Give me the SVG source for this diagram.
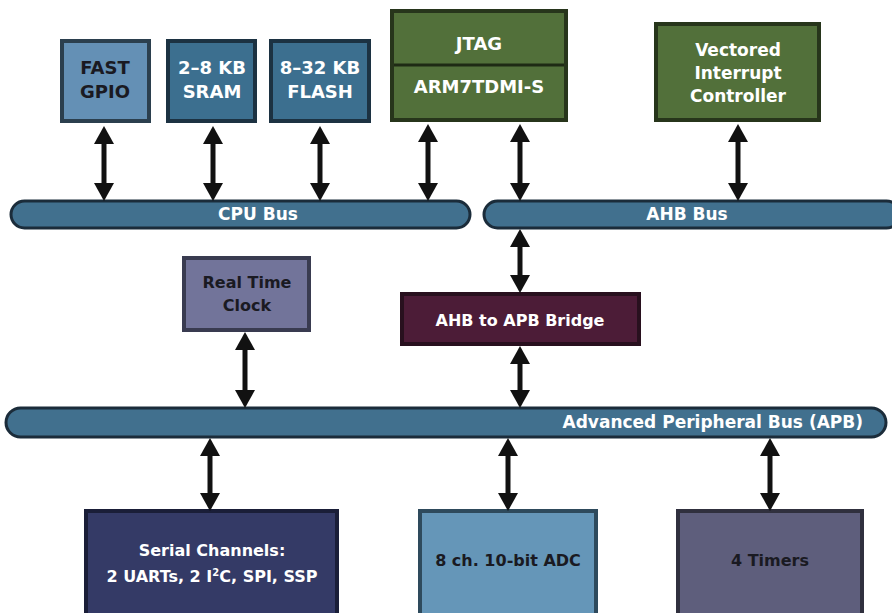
<svg xmlns="http://www.w3.org/2000/svg" width="892" height="613" viewBox="0 0 892 613">
<defs>
<marker id="ah" viewBox="0 0 18 20" refX="9" refY="10" markerWidth="18" markerHeight="20" markerUnits="userSpaceOnUse" orient="auto-start-reverse">
<path d="M0,0 L18,10 L0,20 z" fill="#111"/>
</marker>
</defs>
<style>
text{font-family:"DejaVu Sans","Open Sans",sans-serif;font-weight:bold;text-anchor:middle;font-size:16px;fill:#fff}
.t{font-size:18px}
.b{font-size:17px}
.dk{fill:#1a1a22}
.bus{fill:#41708e;stroke:#1b2c3a;stroke-width:3}
.c line{stroke:#111;stroke-width:5;marker-start:url(#ah);marker-end:url(#ah)}
rect{stroke-width:4}
</style>
<rect width="892" height="613" fill="#fff"/>
<g id="cpu-bus"><rect class="bus" x="11" y="201" width="459" height="27" rx="13.5"/><text class="b" x="258" y="220">CPU Bus</text></g>
<g id="ahb-bus"><rect class="bus" x="484" y="201" width="416" height="27" rx="13.5"/><text class="b" x="687" y="220">AHB Bus</text></g>
<g id="apb-bus"><rect class="bus" x="6" y="408" width="880" height="29" rx="14.5"/><text class="b" x="863" y="428" style="text-anchor:end">Advanced Peripheral Bus (APB)</text></g>
<g id="fast-gpio"><rect x="62" y="41" width="87" height="80" fill="#6490b5" stroke="#2b3f4e"/><text class="dk t" x="105" y="74">FAST</text><text class="dk t" x="105" y="98">GPIO</text></g>
<g id="sram"><rect x="168" y="41" width="87" height="80" fill="#3c6f8f" stroke="#1c3242"/><text class="t" x="212" y="74">2–8 KB</text><text class="t" x="212" y="98">SRAM</text></g>
<g id="flash"><rect x="271" y="41" width="98" height="80" fill="#3c6f8f" stroke="#1c3242"/><text class="t" x="320" y="74">8–32 KB</text><text class="t" x="320" y="98">FLASH</text></g>
<g id="arm"><rect x="392" y="11" width="174" height="109" fill="#52703a" stroke="#27351b"/><line x1="394" y1="65" x2="564" y2="65" stroke="#1e2a14" stroke-width="3"/><text class="t" x="479" y="50">JTAG</text><text class="t" x="479" y="93">ARM7TDMI-S</text></g>
<g id="vic"><rect x="656" y="24" width="163" height="96" fill="#52703a" stroke="#27351b"/><text class="b" x="738" y="56">Vectored</text><text class="b" x="738" y="79">Interrupt</text><text class="b" x="738" y="102">Controller</text></g>
<g id="rtc"><rect x="184" y="258" width="125" height="72" fill="#72749a" stroke="#393b50"/><text class="dk" x="247" y="288">Real Time</text><text class="dk" x="247" y="311">Clock</text></g>
<g id="bridge"><rect x="402" y="294" width="237" height="50" fill="#4c1c37" stroke="#28101e"/><text x="520" y="326">AHB to APB Bridge</text></g>
<g id="serial"><rect x="86" y="511" width="251" height="104" fill="#343a66" stroke="#1a1e38"/><text x="212" y="556">Serial Channels:</text><text x="212" y="582">2 UARTs, 2 I<tspan font-size="10" dy="-6">2</tspan><tspan dy="6">C, SPI, SSP</tspan></text></g>
<g id="adc"><rect x="420" y="511" width="176" height="104" fill="#6596b8" stroke="#2e4a5c"/><text class="dk" x="508" y="566">8 ch. 10-bit ADC</text></g>
<g id="timers"><rect x="678" y="511" width="184" height="104" fill="#5e5e7c" stroke="#30303e"/><text class="dk" x="770" y="566">4 Timers</text></g>
<g id="connectors" class="c">
<line x1="104" y1="135" x2="104" y2="192"/>
<line x1="213" y1="135" x2="213" y2="192"/>
<line x1="320" y1="135" x2="320" y2="192"/>
<line x1="428" y1="133" x2="428" y2="192"/>
<line x1="520" y1="133" x2="520" y2="192"/>
<line x1="738" y1="133" x2="738" y2="192"/>
<line x1="520" y1="238" x2="520" y2="284"/>
<line x1="520" y1="355" x2="520" y2="399"/>
<line x1="245" y1="341" x2="245" y2="399"/>
<line x1="210" y1="447" x2="210" y2="502"/>
<line x1="508" y1="447" x2="508" y2="502"/>
<line x1="770" y1="447" x2="770" y2="502"/>
</g>
</svg>
